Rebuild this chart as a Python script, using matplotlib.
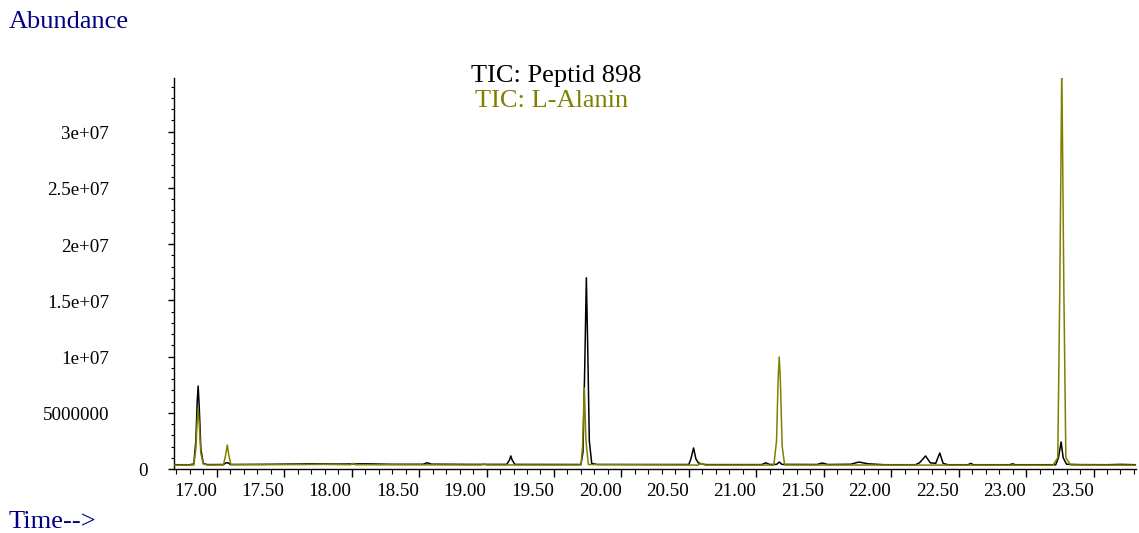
import matplotlib
matplotlib.use("Agg")
import matplotlib.pyplot as plt
from matplotlib.ticker import MultipleLocator, FixedLocator
from matplotlib.transforms import blended_transform_factory, ScaledTranslation

# ---- data ----
peptid_time = [16.683, 16.80, 16.83, 16.845, 16.855, 16.862, 16.870, 16.882, 16.90, 16.93,
               17.05, 17.07, 17.085, 17.10, 17.40, 17.70, 17.90, 18.10, 18.30, 18.53,
               18.56, 18.59, 18.90, 19.15, 19.17, 19.18, 19.19, 19.21, 19.70, 19.715,
               19.728, 19.740, 19.750, 19.762, 19.78, 19.82, 20.50, 20.515, 20.535, 20.552,
               20.57, 20.60, 20.63, 21.04, 21.07, 21.10, 21.15, 21.17, 21.19, 21.45,
               21.49, 21.53, 21.70, 21.76, 21.83, 21.95, 22.18, 22.21, 22.255, 22.29,
               22.33, 22.36, 22.385, 22.42, 22.57, 22.59, 22.61, 22.88, 22.90, 22.92,
               23.22, 23.24, 23.26, 23.275, 23.30, 23.40, 23.60, 23.70, 23.815]
peptid_abund = [3.8e5, 3.8e5, 4.5e5, 2.5e6, 6.0e6, 7.38e6, 5.5e6, 1.8e6, 5.0e5, 3.9e5,
                4.0e5, 5.5e5, 5.5e5, 4.0e5, 4.2e5, 4.6e5, 4.4e5, 4.6e5, 4.2e5, 4.2e5,
                5.6e5, 4.3e5, 4.1e5, 4.1e5, 8.0e5, 1.16e6, 8.0e5, 4.1e5, 4.0e5, 1.5e6,
                9.0e6, 1.70e7, 1.1e7, 2.5e6, 5.0e5, 4.0e5, 4.0e5, 9.0e5, 1.87e6, 9.0e5,
                5.5e5, 4.3e5, 3.9e5, 3.9e5, 5.5e5, 4.0e5, 4.1e5, 6.2e5, 4.1e5, 4.0e5,
                5.3e5, 4.0e5, 4.2e5, 6.2e5, 4.6e5, 3.8e5, 3.8e5, 5.5e5, 1.16e6, 5.5e5,
                5.0e5, 1.42e6, 5.0e5, 3.8e5, 3.8e5, 5.0e5, 3.8e5, 3.8e5, 4.6e5, 3.8e5,
                3.8e5, 1.0e6, 2.4e6, 1.0e6, 4.2e5, 3.9e5, 3.8e5, 4.1e5, 3.8e5]

alanin_time = [16.683, 16.83, 16.845, 16.855, 16.862, 16.870, 16.882, 16.90, 16.93, 17.05,
               17.065, 17.078, 17.09, 17.105, 17.50, 17.80, 17.99, 18.01, 18.03, 18.50,
               18.96, 18.98, 19.00, 19.70, 19.712, 19.725, 19.737, 19.755, 20.57, 20.59,
               20.62, 21.13, 21.150, 21.162, 21.170, 21.178, 21.192, 21.21, 23.20, 23.235,
               23.250, 23.265, 23.280, 23.295, 23.33, 23.815]
alanin_abund = [3.4e5, 3.6e5, 1.8e6, 4.3e6, 5.33e6, 4.0e6, 1.4e6, 4.5e5, 3.5e5, 3.6e5,
                1.2e6, 2.13e6, 1.2e6, 3.8e5, 3.9e5, 4.1e5, 3.8e5, 5.0e5, 3.8e5, 3.7e5,
                3.6e5, 4.6e5, 3.6e5, 3.6e5, 2.0e6, 7.2e6, 2.5e6, 4.0e5, 3.5e5, 5.0e5,
                3.5e5, 3.5e5, 2.5e6, 8.0e6, 9.96e6, 8.0e6, 2.0e6, 3.6e5, 3.4e5, 1.0e6,
                1.6e7, 3.6e7, 1.6e7, 1.0e6, 3.6e5, 3.4e5]

x_major = [17.00, 17.50, 18.00, 18.50, 19.00, 19.50, 20.00, 20.50, 21.00, 21.50,
           22.00, 22.50, 23.00, 23.50]
y_major = [0, 5e6, 1e7, 1.5e7, 2e7, 2.5e7, 3e7]
y_labels = ["0", "5000000", "1e+07", "1.5e+07", "2e+07", "2.5e+07", "3e+07"]
series_names = ["TIC: Peptid 898", "TIC: L-Alanin"]

# ---- figure ----
W, H = 1139, 533
fig = plt.figure(figsize=(W / 100, H / 100), dpi=100)
serif = ["Liberation Serif", "DejaVu Serif"]
plt.rcParams["font.family"] = serif

left, right, bottom, top = 174, 1136, 469, 78
ax = fig.add_axes([left / W, 1 - bottom / H, (right - left) / W, (bottom - top) / H])

OLIVE = "#808000"
NAVY = "#000080"
ax.plot(peptid_time, peptid_abund, color="black", lw=1.1, zorder=2)
ax.plot(alanin_time, alanin_abund, color=OLIVE, lw=1.1, zorder=3)

ax.set_xlim(16.683, 23.815)
ax.set_ylim(0, 3.476e7)

for s in ["top", "right"]:
    ax.spines[s].set_visible(False)
ax.spines["left"].set_linewidth(1.0)
ax.spines["bottom"].set_linewidth(1.0)

ax.xaxis.set_major_locator(FixedLocator(x_major))
ax.xaxis.set_minor_locator(MultipleLocator(0.1))
ax.yaxis.set_major_locator(FixedLocator(y_major))
ax.yaxis.set_minor_locator(MultipleLocator(1e6))
ax.tick_params(axis="x", which="major", length=6, width=1, direction="out", labelbottom=False)
ax.tick_params(axis="x", which="minor", length=3.5, width=0.8, direction="out")
ax.tick_params(axis="y", which="major", length=4, width=1, direction="out", labelleft=False)
ax.tick_params(axis="y", which="minor", length=2.5, width=0.8, direction="out")

TICK_FS = 13.7
# x tick labels: right edge aligned to tick (ChemStation style)
tx = blended_transform_factory(ax.transData, fig.transFigure)
for v in x_major:
    ax.text(v, 1 - 491 / H, f"{v:.2f}", transform=tx, ha="right", va="center",
            fontsize=TICK_FS, family=serif, color="black", clip_on=False)

# y tick labels
down = ScaledTranslation(0, -3 / 100, fig.dpi_scale_trans)
ty = blended_transform_factory(fig.transFigure, ax.transData) + down
for v, lab in zip(y_major, y_labels):
    if v == 0:
        fig.text(148 / W, 1 - 472 / H, lab, ha="right", va="center", fontsize=TICK_FS,
                 family=serif, color="black")
    else:
        ax.text(109 / W, v, lab, transform=ty, ha="right", va="center", fontsize=TICK_FS,
                family=serif, color="black", clip_on=False)

TITLE_FS = 19
fig.text(9 / W, 1 - 22 / H, "Abundance", ha="left", va="center", fontsize=TITLE_FS,
         color=NAVY, family=serif)
fig.text(9 / W, 1 - 522 / H, "Time-->", ha="left", va="center", fontsize=TITLE_FS,
         color=NAVY, family=serif)
fig.text(556 / W, 1 - 76 / H, series_names[0], ha="center", va="center", fontsize=TITLE_FS,
         color="black", family=serif)
fig.text(552 / W, 1 - 101 / H, series_names[1], ha="center", va="center", fontsize=TITLE_FS,
         color=OLIVE, family=serif)

fig.savefig("out.png", dpi=100)
